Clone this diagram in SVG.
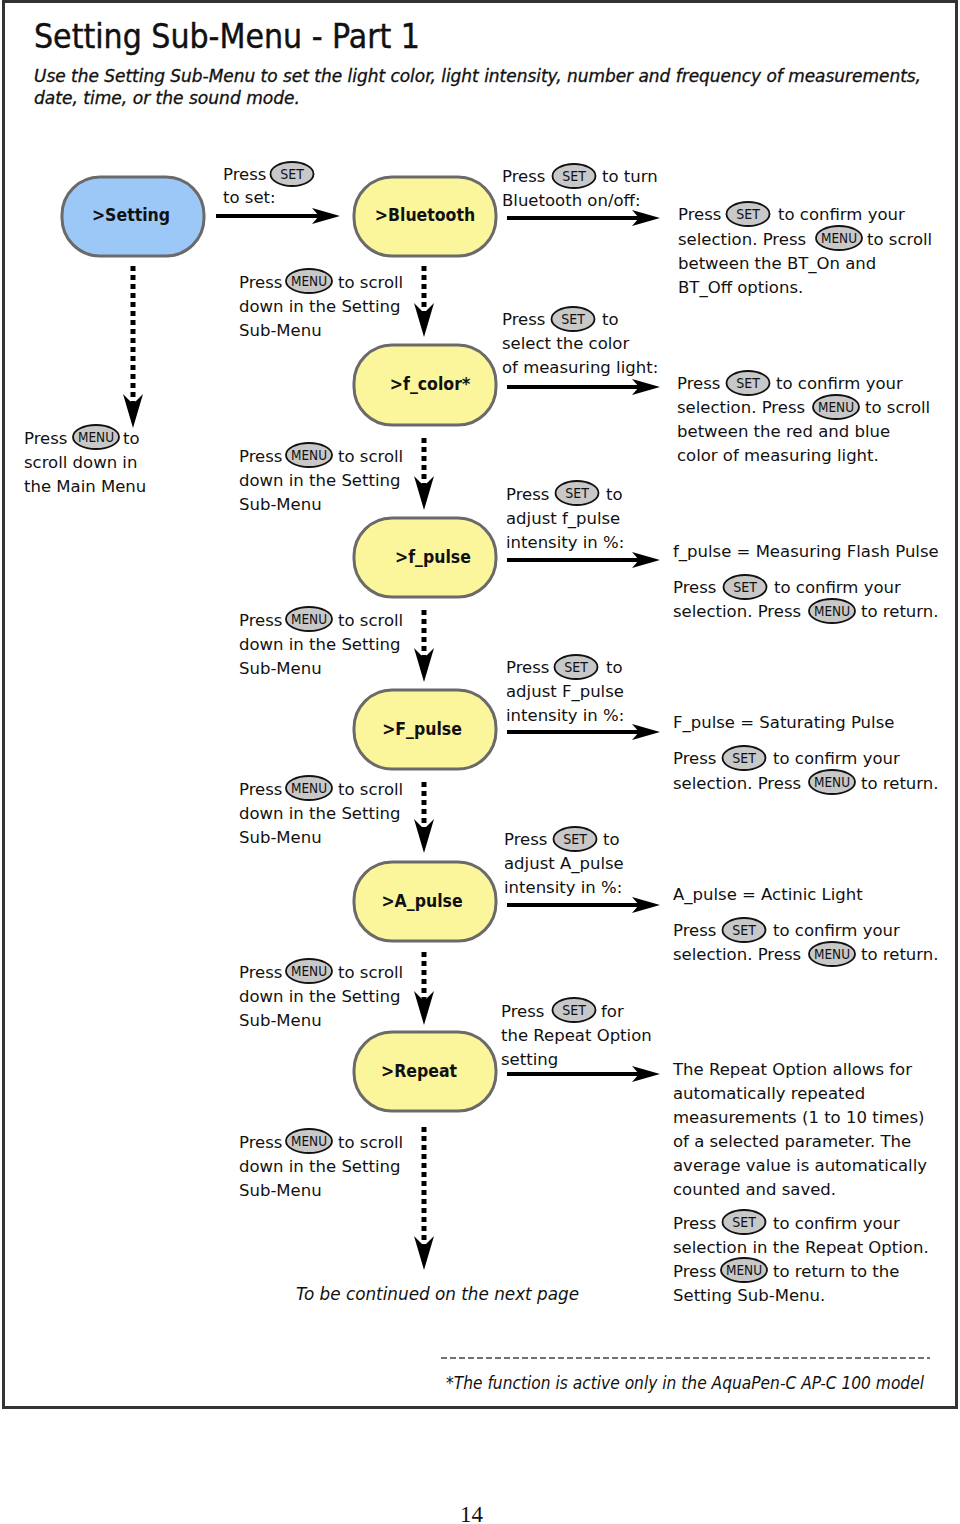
<svg xmlns="http://www.w3.org/2000/svg" xmlns:xlink="http://www.w3.org/1999/xlink" width="960" height="1524" viewBox="0 0 960 1524">
<style>
.t{font-family:'DejaVu Sans','Liberation Sans',sans-serif;font-size:16.5px;fill:#111}
.i{font-family:'DejaVu Sans Condensed','DejaVu Sans',sans-serif;font-stretch:condensed;font-style:italic;fill:#111}
.n{font-family:'DejaVu Sans Condensed','DejaVu Sans',sans-serif;font-stretch:condensed;font-weight:bold;font-size:17.5px;text-anchor:middle;fill:#111}
.ny{fill:#fbf69c;stroke:#6a6a6a;stroke-width:3}
.nb{fill:#9cc8f8;stroke:#6a6a6a;stroke-width:3}
.be{fill:#c8c8c8;stroke:#111;stroke-width:1.8}
.bt{font-family:'DejaVu Sans Condensed','DejaVu Sans',sans-serif;font-stretch:condensed;font-size:14px;text-anchor:middle;fill:#111}
.h{stroke:#000;stroke-width:4;fill:none;marker-end:url(#ah)}
.v{stroke:#000;stroke-width:5;stroke-dasharray:5 4;fill:none;marker-end:url(#av)}
</style>
<defs>
<marker id="ah" markerUnits="userSpaceOnUse" viewBox="0 -9 30 18" refX="7" refY="0" markerWidth="30" markerHeight="18" orient="auto"><path d="M0,-8 L28,0 L0,8 L7,0 Z" fill="#000"/></marker>
<marker id="av" markerUnits="userSpaceOnUse" viewBox="0 -11 36 22" refX="10" refY="0" markerWidth="36" markerHeight="22" orient="auto"><path d="M0,-10 L34,0 L0,10 L10,0 Z" fill="#000"/></marker>
<g id="set"><ellipse class="be" cx="0" cy="0" rx="21.5" ry="12"/><text class="bt" x="0" y="5">SET</text></g>
<g id="menu"><ellipse class="be" cx="0" cy="0" rx="23" ry="12"/><text class="bt" x="0" y="5" font-size="13" textLength="36" lengthAdjust="spacingAndGlyphs">MENU</text></g>
</defs>
<rect x="3.5" y="1.5" width="953" height="1406" fill="#fff" stroke="#333" stroke-width="3"/>
<text x="34" y="48" font-family="'DejaVu Sans Condensed','DejaVu Sans',sans-serif" font-stretch="condensed" font-size="33" fill="#111" stroke="#111" stroke-width="0.4" textLength="386" lengthAdjust="spacingAndGlyphs">Setting Sub-Menu - Part 1</text>
<text class="i" x="34" y="82" font-size="17" stroke="#111" stroke-width="0.3" textLength="887" lengthAdjust="spacingAndGlyphs">Use the Setting Sub-Menu to set the light color, light intensity, number and frequency of measurements,</text>
<text class="i" x="34" y="104" font-size="17" stroke="#111" stroke-width="0.3" textLength="266" lengthAdjust="spacingAndGlyphs">date, time, or the sound mode.</text>

<g id="connectors">
<line class="h" x1="216" y1="216" x2="319" y2="216"/>
<line class="h" x1="507" y1="218" x2="639" y2="218"/>
<line class="h" x1="507" y1="387" x2="639" y2="387"/>
<line class="h" x1="507" y1="560" x2="639" y2="560"/>
<line class="h" x1="507" y1="732" x2="639" y2="732"/>
<line class="h" x1="507" y1="905" x2="639" y2="905"/>
<line class="h" x1="507" y1="1074" x2="639" y2="1074"/>
<line class="v" x1="133" y1="266" x2="133" y2="404"/>
<line class="v" x1="424" y1="266" x2="424" y2="313"/>
<line class="v" x1="424" y1="438" x2="424" y2="486"/>
<line class="v" x1="424" y1="610" x2="424" y2="658"/>
<line class="v" x1="424" y1="782" x2="424" y2="829"/>
<line class="v" x1="424" y1="952" x2="424" y2="1001"/>
<line class="v" x1="424" y1="1127" x2="424" y2="1246"/>
</g>

<g id="node-setting"><rect class="nb" x="62" y="177" width="142" height="79" rx="38"/><text class="n" x="131" y="221">&gt;Setting</text></g>
<g id="node-bluetooth"><rect class="ny" x="354" y="177" width="142" height="79" rx="38"/><text class="n" x="425" y="221">&gt;Bluetooth</text></g>
<g id="node-fcolor"><rect class="ny" x="354" y="345" width="142" height="80" rx="38"/><text class="n" x="430" y="390">&gt;f_color*</text></g>
<g id="node-fpulse"><rect class="ny" x="354" y="518" width="142" height="79" rx="38"/><text class="n" x="433" y="563">&gt;f_pulse</text></g>
<g id="node-Fpulse"><rect class="ny" x="354" y="690" width="142" height="79" rx="38"/><text class="n" x="422" y="735">&gt;F_pulse</text></g>
<g id="node-Apulse"><rect class="ny" x="354" y="862" width="142" height="79" rx="38"/><text class="n" x="422" y="907">&gt;A_pulse</text></g>
<g id="node-repeat"><rect class="ny" x="354" y="1032" width="142" height="79" rx="38"/><text class="n" x="419" y="1077">&gt;Repeat</text></g>

<g id="labels-left">
<text class="t" x="223" y="180">Press</text><use xlink:href="#set" x="292" y="174"/>
<text class="t" x="223" y="203">to set:</text>

<text class="t" x="24" y="444">Press</text><use xlink:href="#menu" x="96" y="437"/><text class="t" x="123" y="444">to</text>
<text class="t" x="24" y="468">scroll down in</text>
<text class="t" x="24" y="492">the Main Menu</text>

<text class="t" x="239" y="288">Press</text><use xlink:href="#menu" x="309" y="281"/><text class="t" x="338" y="288">to scroll</text>
<text class="t" x="239" y="312">down in the Setting</text>
<text class="t" x="239" y="336">Sub-Menu</text>

<text class="t" x="239" y="462">Press</text><use xlink:href="#menu" x="309" y="455"/><text class="t" x="338" y="462">to scroll</text>
<text class="t" x="239" y="486">down in the Setting</text>
<text class="t" x="239" y="510">Sub-Menu</text>

<text class="t" x="239" y="626">Press</text><use xlink:href="#menu" x="309" y="619"/><text class="t" x="338" y="626">to scroll</text>
<text class="t" x="239" y="650">down in the Setting</text>
<text class="t" x="239" y="674">Sub-Menu</text>

<text class="t" x="239" y="795">Press</text><use xlink:href="#menu" x="309" y="788"/><text class="t" x="338" y="795">to scroll</text>
<text class="t" x="239" y="819">down in the Setting</text>
<text class="t" x="239" y="843">Sub-Menu</text>

<text class="t" x="239" y="978">Press</text><use xlink:href="#menu" x="309" y="971"/><text class="t" x="338" y="978">to scroll</text>
<text class="t" x="239" y="1002">down in the Setting</text>
<text class="t" x="239" y="1026">Sub-Menu</text>

<text class="t" x="239" y="1148">Press</text><use xlink:href="#menu" x="309" y="1141"/><text class="t" x="338" y="1148">to scroll</text>
<text class="t" x="239" y="1172">down in the Setting</text>
<text class="t" x="239" y="1196">Sub-Menu</text>
</g>

<g id="labels-mid">
<text class="t" x="502" y="182">Press</text><use xlink:href="#set" x="574" y="176"/><text class="t" x="602" y="182">to turn</text>
<text class="t" x="502" y="206">Bluetooth on/off:</text>

<text class="t" x="502" y="325">Press</text><use xlink:href="#set" x="573" y="319"/><text class="t" x="602" y="325">to</text>
<text class="t" x="502" y="349">select the color</text>
<text class="t" x="502" y="373">of measuring light:</text>

<text class="t" x="506" y="500">Press</text><use xlink:href="#set" x="577" y="493"/><text class="t" x="606" y="500">to</text>
<text class="t" x="506" y="524">adjust f_pulse</text>
<text class="t" x="506" y="548">intensity in %:</text>

<text class="t" x="506" y="673">Press</text><use xlink:href="#set" x="576" y="667"/><text class="t" x="606" y="673">to</text>
<text class="t" x="506" y="697">adjust F_pulse</text>
<text class="t" x="506" y="721">intensity in %:</text>

<text class="t" x="504" y="845">Press</text><use xlink:href="#set" x="575" y="839"/><text class="t" x="603" y="845">to</text>
<text class="t" x="504" y="869">adjust A_pulse</text>
<text class="t" x="504" y="893">intensity in %:</text>

<text class="t" x="501" y="1017">Press</text><use xlink:href="#set" x="574" y="1010"/><text class="t" x="601" y="1017">for</text>
<text class="t" x="501" y="1041">the Repeat Option</text>
<text class="t" x="501" y="1065">setting</text>

<text class="i" x="296" y="1300" font-size="18" textLength="283" lengthAdjust="spacingAndGlyphs">To be continued on the next page</text>
</g>

<g id="labels-right">
<text class="t" x="678" y="220">Press</text><use xlink:href="#set" x="748" y="214"/><text class="t" x="778" y="220">to confirm your</text>
<text class="t" x="678" y="245">selection. Press</text><use xlink:href="#menu" x="839" y="238"/><text class="t" x="867" y="245">to scroll</text>
<text class="t" x="678" y="269">between the BT_On and</text>
<text class="t" x="678" y="293">BT_Off options.</text>

<text class="t" x="677" y="389">Press</text><use xlink:href="#set" x="748" y="383"/><text class="t" x="776" y="389">to confirm your</text>
<text class="t" x="677" y="413">selection. Press</text><use xlink:href="#menu" x="836" y="407"/><text class="t" x="865" y="413">to scroll</text>
<text class="t" x="677" y="437">between the red and blue</text>
<text class="t" x="677" y="461">color of measuring light.</text>

<text class="t" x="673" y="557">f_pulse = Measuring Flash Pulse</text>
<text class="t" x="673" y="593">Press</text><use xlink:href="#set" x="745" y="587"/><text class="t" x="774" y="593">to confirm your</text>
<text class="t" x="673" y="617">selection. Press</text><use xlink:href="#menu" x="832" y="611"/><text class="t" x="861" y="617">to return.</text>

<text class="t" x="673" y="728">F_pulse = Saturating Pulse</text>
<text class="t" x="673" y="764">Press</text><use xlink:href="#set" x="744" y="758"/><text class="t" x="773" y="764">to confirm your</text>
<text class="t" x="673" y="789">selection. Press</text><use xlink:href="#menu" x="832" y="782"/><text class="t" x="861" y="789">to return.</text>

<text class="t" x="673" y="900">A_pulse = Actinic Light</text>
<text class="t" x="673" y="936">Press</text><use xlink:href="#set" x="744" y="930"/><text class="t" x="773" y="936">to confirm your</text>
<text class="t" x="673" y="960">selection. Press</text><use xlink:href="#menu" x="832" y="954"/><text class="t" x="861" y="960">to return.</text>

<text class="t" x="673" y="1075">The Repeat Option allows for</text>
<text class="t" x="673" y="1099">automatically repeated</text>
<text class="t" x="673" y="1123">measurements (1 to 10 times)</text>
<text class="t" x="673" y="1147">of a selected parameter. The</text>
<text class="t" x="673" y="1171">average value is automatically</text>
<text class="t" x="673" y="1195">counted and saved.</text>

<text class="t" x="673" y="1229">Press</text><use xlink:href="#set" x="744" y="1222"/><text class="t" x="773" y="1229">to confirm your</text>
<text class="t" x="673" y="1253">selection in the Repeat Option.</text>
<text class="t" x="673" y="1277">Press</text><use xlink:href="#menu" x="744" y="1270"/><text class="t" x="773" y="1277">to return to the</text>
<text class="t" x="673" y="1301">Setting Sub-Menu.</text>
</g>

<line x1="441" y1="1358" x2="930" y2="1358" stroke="#444" stroke-width="1.5" stroke-dasharray="6 3"/>
<text class="i" x="446" y="1389" font-size="17" textLength="478" lengthAdjust="spacingAndGlyphs">*The function is active only in the AquaPen-C AP-C 100 model</text>
<text x="460" y="1522" font-family="'Liberation Serif',serif" font-size="23" fill="#111">14</text>
</svg>
